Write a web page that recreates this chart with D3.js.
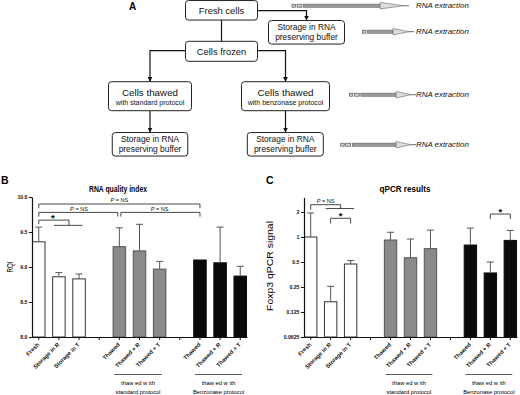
<!DOCTYPE html>
<html>
<head>
<meta charset="utf-8">
<script src="https://cdn.jsdelivr.net/npm/d3@7"></script>
<style>
  body { margin: 0; background: #fff; }
  svg { display: block; font-family: "Liberation Sans", Arial, sans-serif; }
</style>
</head>
<body>
<div id="fig"></div>
<script>
// ---- data ----
const categories = ["Fresh", "Storage in R", "Storage in T", "", "Thawed", "Thawed + R", "Thawed + T", "", "Thawed", "Thawed + R", "Thawed + T"];
const groups = ["fresh", "fresh", "fresh", null, "standard", "standard", "standard", null, "benzonase", "benzonase", "benzonase"];
const rqiMean = [9.36, 8.86, 8.83, null, 9.29, 9.23, 8.97, null, 9.10, 9.06, 8.87];
const rqiUpper = [9.57, 8.92, 8.90, null, 9.56, 9.61, 9.08, null, null, 9.57, 9.01];
const qpcrMean = [1.0, 0.166, 0.473, null, 0.92, 0.563, 0.724, null, 0.80, 0.369, 0.91];
const qpcrUpper = [1.95, 0.255, 0.52, null, 1.14, 0.945, 1.21, null, 1.28, 0.50, 1.20];
const rqiTicks = [8.0, 8.5, 9.0, 9.5, 10.0];
const qpcrTicks = [0.0625, 0.125, 0.25, 0.5, 1, 2];
const groupLabels = [["thaw ed w ith", "standard protocol"], ["thaw ed w ith", "Benzonase protocol"]];
const flowNodes = [
  { id: "fresh", lines: ["Fresh cells"] },
  { id: "store0", lines: ["Storage in RNA", "preserving buffer"] },
  { id: "frozen", lines: ["Cells frozen"] },
  { id: "std", lines: ["Cells thawed", "with standard protocol"] },
  { id: "benz", lines: ["Cells thawed", "with benzonase protocol"] },
  { id: "store1", lines: ["Storage in RNA", "preserving buffer"] },
  { id: "store2", lines: ["Storage in RNA", "preserving buffer"] }
];
const extractionLabel = "RNA extraction";

const fillFor = { fresh: "#fff", standard: "#8a8a8a", benzonase: "#0a0a0a" };
const strokeFor = { fresh: "#333", standard: "#555", benzonase: "#0a0a0a" };

const svg = d3.select("#fig").append("svg").attr("width", 520).attr("height", 395);
svg.append("rect").attr("width", 520).attr("height", 395).attr("fill", "#fff");

// ---- panel A: flow chart ----
const col = { std: 150, main: 221.5, benz: 285.5, side: 306.5 };
const row = [10.3, 32.3, 51.3, 96.2, 144.3];
const layout = {
  fresh: { x: col.main, y: row[0], w: 72, h: 19.5 },
  store0: { x: col.side, y: row[1], w: 76, h: 23.5 },
  frozen: { x: col.main, y: row[2], w: 72, h: 20 },
  std: { x: col.std, y: row[3], w: 83, h: 29 },
  benz: { x: col.benz, y: row[3], w: 88, h: 29 },
  store1: { x: col.std, y: row[4], w: 75.5, h: 23.5 },
  store2: { x: 285.3, y: row[4], w: 76, h: 23.5 }
};

svg.append("defs").append("marker")
  .attr("id", "ah").attr("viewBox", "0 0 10 10")
  .attr("refX", 10).attr("refY", 5)
  .attr("markerWidth", 5).attr("markerHeight", 5)
  .attr("markerUnits", "userSpaceOnUse")
  .attr("orient", "auto")
  .append("path").attr("d", "M0,0L10,5L0,10z").attr("fill", "#111");

svg.append("text").attr("x", 129).attr("y", 10).attr("font-size", 10).attr("font-weight", "bold").text("A");

const L = id => layout[id];
const links = [
  { d: `M${L("fresh").x + L("fresh").w / 2},10.7H${col.side}V${L("store0").y - L("store0").h / 2}`, arrow: true },
  { d: `M${col.main},${L("fresh").y + L("fresh").h / 2}V${L("frozen").y - L("frozen").h / 2}`, arrow: false },
  { d: `M${col.main - L("frozen").w / 2},50.7H${col.std}V${L("std").y - L("std").h / 2}`, arrow: true },
  { d: `M${col.main + L("frozen").w / 2},50.7H${col.benz}V${L("benz").y - L("benz").h / 2}`, arrow: true },
  { d: `M${col.std},${L("std").y + L("std").h / 2}V${L("store1").y - L("store1").h / 2}`, arrow: true },
  { d: `M${col.benz},${L("benz").y + L("benz").h / 2}V${L("store2").y - L("store2").h / 2}`, arrow: true }
];
svg.selectAll(".link").data(links).join("path")
  .attr("class", "link")
  .attr("d", d => d.d).attr("fill", "none")
  .attr("stroke", "#111").attr("stroke-width", 1.2)
  .attr("marker-end", d => d.arrow ? "url(#ah)" : null);

const node = svg.selectAll(".node").data(flowNodes).join("g")
  .attr("class", "node")
  .attr("transform", d => `translate(${L(d.id).x},${L(d.id).y})`);
node.append("rect")
  .attr("x", d => -L(d.id).w / 2).attr("y", d => -L(d.id).h / 2)
  .attr("width", d => L(d.id).w).attr("height", d => L(d.id).h)
  .attr("rx", 3).attr("fill", "#fff").attr("stroke", "#222").attr("stroke-width", 1);
node.each(function (d) {
  const g = d3.select(this);
  const t = g.append("text").attr("text-anchor", "middle").attr("fill", "#111");
  if (d.lines.length === 1) {
    t.attr("y", 3.3).attr("font-size", 9.4).text(d.lines[0]);
  } else if (d.id === "std" || d.id === "benz") {
    t.append("tspan").attr("x", 0).attr("y", -0.5).attr("font-size", 9.8).text(d.lines[0]);
    t.append("tspan").attr("x", 0).attr("y", 8.8).attr("font-size", 7).text(d.lines[1]);
  } else {
    t.append("tspan").attr("x", 0).attr("y", -2).attr("font-size", 8.4).text(d.lines[0]);
    t.append("tspan").attr("x", 0).attr("y", 8).attr("font-size", 8.4).text(d.lines[1]);
  }
});

// RNA extraction arrows
const extraction = [
  { y: 5.7, start: 292, squares: 2, head: 380, tip: 404 },
  { y: 31.7, start: 362.5, squares: 1, head: 393, tip: 409 },
  { y: 94.7, start: 349.3, squares: 2, head: 396, tip: 411 },
  { y: 144.7, start: 340.7, squares: 2, head: 396, tip: 411 }
];
const ex = svg.selectAll(".ex").data(extraction).join("g").attr("class", "ex")
  .attr("transform", d => `translate(0,${d.y})`);
ex.each(function (d) {
  const g = d3.select(this);
  let x = d.start;
  for (let i = 0; i < d.squares; i++) {
    const w = i === 0 ? 3.5 : 5;
    g.append("rect").attr("x", x).attr("y", -1.5).attr("width", w).attr("height", 3)
      .attr("fill", "#ccc").attr("stroke", "#444").attr("stroke-width", 0.6);
    x += w + 1.5;
  }
  g.append("rect").attr("x", x).attr("y", -1.6).attr("width", d.head - x).attr("height", 3.2)
    .attr("fill", "#9a9a9a").attr("stroke", "#555").attr("stroke-width", 0.5);
  g.append("path").attr("d", `M${d.head},-3.2L${d.tip},0L${d.head},3.2z`)
    .attr("fill", "#ddd").attr("stroke", "#666").attr("stroke-width", 0.6);
  g.append("line").attr("x1", d.tip).attr("x2", d.tip + 5).attr("y1", 0).attr("y2", 0)
    .attr("stroke", "#444").attr("stroke-width", 0.8);
  g.append("text").attr("x", 416).attr("y", 2.7).attr("font-size", 7.9)
    .attr("font-style", "italic").attr("fill", "#111").text(extractionLabel);
});

// ---- panels B and C ----
function pText(sel, x, y) {
  const t = sel.append("text").attr("x", x).attr("y", y).attr("text-anchor", "middle")
    .attr("font-size", 5.6).attr("fill", "#111");
  t.append("tspan").attr("font-style", "italic").text("P");
  t.append("tspan").text(" = NS");
}

function drawPanel(o) {
  const g = svg.append("g");
  const x = d3.scaleBand().domain(d3.range(categories.length))
    .range(o.xRange).paddingInner(0.33).paddingOuter(0);
  const y = o.y;
  const cx = i => x(i) + x.bandwidth() / 2;

  g.append("text").attr("x", o.letter[0]).attr("y", o.letter[1])
    .attr("font-size", 10.5).attr("font-weight", "bold").text(o.letterText);
  g.append("text").attr("x", o.title[0]).attr("y", o.title[1]).attr("text-anchor", "middle")
    .attr("font-size", 9.5).attr("font-weight", "bold")
    .attr("textLength", o.titleLen).attr("lengthAdjust", "spacingAndGlyphs").text(o.titleText);
  g.append("text").attr("transform", `translate(${o.ylab[0]},${o.ylab[1]}) rotate(-90)`)
    .attr("text-anchor", "middle").attr("font-size", 8.3)
    .attr("textLength", o.ylabLen).attr("lengthAdjust", "spacingAndGlyphs").text(o.ylabText);

  const idx = d3.range(categories.length).filter(i => o.mean[i] != null);

  g.selectAll(".bar").data(idx).join("rect")
    .attr("x", i => x(i) + 0.5).attr("width", x.bandwidth() - 1)
    .attr("y", i => y(o.mean[i])).attr("height", i => y(o.y.domain()[0]) - y(o.mean[i]))
    .attr("fill", i => fillFor[groups[i]]).attr("stroke", i => strokeFor[groups[i]]).attr("stroke-width", 1);

  const eb = idx.filter(i => o.upper[i] != null);
  g.selectAll(".err").data(eb).join("line")
    .attr("x1", cx).attr("x2", cx)
    .attr("y1", i => y(o.mean[i])).attr("y2", i => y(o.upper[i]))
    .attr("stroke", "#555").attr("stroke-width", 1);
  g.selectAll(".cap").data(eb).join("line")
    .attr("x1", i => cx(i) - 3.5).attr("x2", i => cx(i) + 3.5)
    .attr("y1", i => y(o.upper[i])).attr("y2", i => y(o.upper[i]))
    .attr("stroke", "#555").attr("stroke-width", 1);

  const y0 = y.range()[0];
  const xa = g.append("g").attr("transform", `translate(0,${y0})`)
    .call(d3.axisBottom(x).tickSize(3).tickSizeOuter(0).tickFormat(""));
  xa.select(".domain").attr("stroke", "#111").attr("stroke-width", 1.2);
  xa.selectAll(".tick line").attr("stroke", "#111");

  g.selectAll(".xl").data(d3.range(categories.length).filter(i => categories[i])).join("text")
    .attr("transform", i => `translate(${cx(i) + 1},${y0 + 8}) rotate(-45)`)
    .attr("text-anchor", "end").attr("font-size", 5.8).attr("font-weight", "bold")
    .attr("fill", "#111").text(i => categories[i]);

  const ya = g.append("g").attr("transform", `translate(${o.xRange[0]},0)`)
    .call(d3.axisLeft(y).tickValues(o.ticks).tickSize(3).tickSizeOuter(0).tickPadding(1.5).tickFormat(o.fmt));
  ya.select(".domain").attr("stroke", "#111").attr("stroke-width", 1.2);
  ya.selectAll(".tick line").attr("stroke", "#111");
  ya.selectAll("text").attr("font-size", 5.2).attr("font-weight", "bold")
    .attr("font-family", "'Liberation Sans', Arial, sans-serif").attr("fill", "#111");

  // group underlines
  [[4, 6], [8, 10]].forEach((r, k) => {
    const a = cx(r[0]) - 5, b = cx(r[1]) + 2, m = (a + b) / 2;
    g.append("line").attr("x1", a).attr("x2", b).attr("y1", 374.5).attr("y2", 374.5)
      .attr("stroke", "#333").attr("stroke-width", 0.8);
    g.append("text").attr("x", m).attr("y", 385).attr("text-anchor", "middle")
      .attr("font-size", 5.8).text(groupLabels[k][0]);
    g.append("text").attr("x", m).attr("y", 393.5).attr("text-anchor", "middle")
      .attr("font-size", 5.8).text(groupLabels[k][1]);
  });

  // significance brackets
  o.brackets.forEach(b => {
    const xa1 = b.from === "mid12" ? (cx(1) + cx(2)) / 2 : cx(b.from);
    const xb1 = b.to === "mid12" ? (cx(1) + cx(2)) / 2 : cx(b.to);
    const yt = y(b.top), yl = y(b.leg);
    g.append("path")
      .attr("d", `M${xa1 + (b.insetL || 0)},${yl}V${yt}H${xb1 - (b.insetR || 0)}V${b.sub ? y(b.sub) : yl}`)
      .attr("fill", "none").attr("stroke", "#333").attr("stroke-width", 0.9);
    if (b.sub) {
      g.append("line").attr("x1", cx(1) - 5).attr("x2", cx(2) + 3.5)
        .attr("y1", y(b.sub)).attr("y2", y(b.sub)).attr("stroke", "#333").attr("stroke-width", 0.9);
    }
    const mx = (xa1 + xb1) / 2;
    if (b.label === "*") {
      g.append("text").attr("x", b.starX != null ? b.starX(cx) : mx).attr("y", yt + 1)
        .attr("text-anchor", "middle").attr("font-size", 9.5).attr("font-weight", "bold").text("*");
    } else {
      pText(g, mx, yt - 1.8);
    }
  });
}

drawPanel({
  xRange: [32, 247],
  y: d3.scaleLinear().domain([8, 10]).range([337, 197]),
  mean: rqiMean, upper: rqiUpper, ticks: rqiTicks, fmt: d3.format(".1f"),
  letter: [1, 184], letterText: "B",
  title: [118, 192], titleText: "RNA quality index", titleLen: 58,
  ylab: [13, 267], ylabText: "RQI", ylabLen: 11,
  brackets: [
    { from: 0, to: 8, top: 9.90, leg: 9.84, label: "P" },
    { from: 0, to: 4, top: 9.78, leg: 9.72, label: "P", insetR: 1.5 },
    { from: 4, to: 8, top: 9.78, leg: 9.72, label: "P", insetL: 1.5 },
    { from: 0, to: "mid12", top: 9.67, leg: 9.61, sub: 9.595, label: "*", starX: cx => (cx(0) + cx(1)) / 2 + 4 }
  ]
});

drawPanel({
  xRange: [304, 517],
  y: d3.scaleLog().base(2).domain([0.0625, 3]).range([337, 212 - 25 * Math.log2(1.5)]),
  mean: qpcrMean, upper: qpcrUpper, ticks: qpcrTicks, fmt: d => String(d),
  letter: [266, 184], letterText: "C",
  title: [405, 192], titleText: "qPCR results", titleLen: 51,
  ylab: [273, 266], ylabText: "Foxp3 qPCR signal", ylabLen: 90,
  brackets: [
    { from: 0, to: "mid12", top: 2.45, leg: 2.13, sub: 2.2, label: "P" },
    { from: 1, to: 2, top: 1.68, leg: 1.45, label: "*" },
    { from: 9, to: 10, top: 1.89, leg: 1.65, label: "*" }
  ]
});
</script>
</body>
</html>
